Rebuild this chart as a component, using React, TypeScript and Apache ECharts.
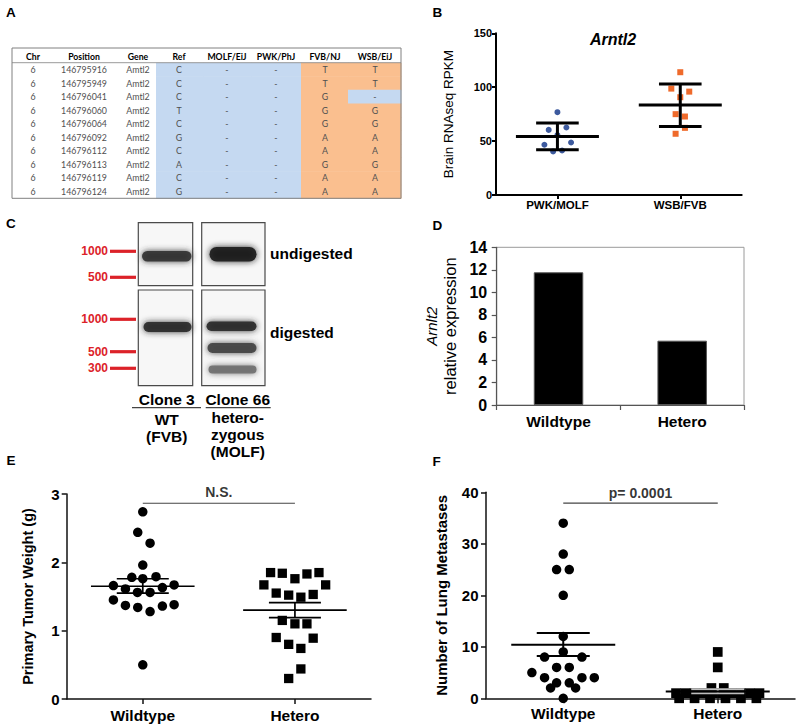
import React, { useEffect, useRef } from "react";
import * as echarts from "echarts";

const FONT = "'Liberation Sans', Arial, Helvetica, sans-serif";
const TABLE_FONT = "Lato, 'Open Sans', sans-serif";

// ---------- Panel A: SNP table ----------
const tableHeaders = ["Chr", "Position", "Gene", "Ref", "MOLF/EiJ", "PWK/PhJ", "FVB/NJ", "WSB/EiJ"];
const chrColumn = ["6", "6", "6", "6", "6", "6", "6", "6", "6", "6"];
const positionColumn = ["146795916", "146795949", "146796041", "146796060", "146796064", "146796092", "146796112", "146796113", "146796119", "146796124"];
const geneColumn = ["Amtl2", "Amtl2", "Amtl2", "Amtl2", "Amtl2", "Amtl2", "Amtl2", "Amtl2", "Amtl2", "Amtl2"];
const refColumn = ["C", "C", "C", "T", "C", "G", "C", "A", "C", "G"];
const molfColumn = ["-", "-", "-", "-", "-", "-", "-", "-", "-", "-"];
const pwkColumn = ["-", "-", "-", "-", "-", "-", "-", "-", "-", "-"];
const fvbColumn = ["T", "T", "G", "G", "G", "A", "A", "G", "A", "A"];
const wsbColumn = ["T", "T", "-", "G", "G", "A", "A", "G", "A", "A"];

// ---------- Panel B ----------
const bCategories = ["PWK/MOLF", "WSB/FVB"];
const bPwkMolf = [76.8, 60.4, 62.6, 55.5, 46.6, 48.7, 40.4, 41.3];
const bPwkMolfSpread = [0, -0.071, 0.073, 0, -0.106, 0.111, -0.035, 0.038];
const bWsbFvb = [113.9, 98.7, 95.9, 90.7, 75.0, 72.8, 62.3, 56.8];
const bWsbFvbSpread = [0, -0.073, 0.073, 0, -0.038, 0.038, 0.038, -0.038];
const bMeans = [54.3, 83.5];
const bSdUpper = [66.7, 103];
const bSdLower = [42, 63.5];
const bTicks = [0, 50, 100, 150];

// ---------- Panel C: gel ----------
const ladderTopLabels = ["1000", "500"];
const ladderBottomLabels = ["1000", "500", "300"];
const laneTitles = ["Clone 3", "Clone 66"];
const laneGenotypes = ["WT\n(FVB)", "hetero-\nzygous\n(MOLF)"];

// ---------- Panel D ----------
const dCategories = ["Wildtype", "Hetero"];
const dExpression = [11.78, 5.71];

// ---------- Panel E ----------
const eCategories = ["Wildtype", "Hetero"];
const eWildtypeWeight = [2.74, 2.44, 2.28, 1.96, 1.78, 1.76, 1.79, 1.66, 1.61, 1.56, 1.56, 1.63, 1.67, 1.45, 1.37, 1.34, 1.28, 1.36, 1.38, 0.5];
const eWildtypeSpread = [0, -0.033, 0.048, 0, -0.072, 0, 0.087, -0.193, -0.114, -0.035, 0.048, 0.129, 0.206, -0.193, -0.114, -0.033, 0.048, 0.129, 0.206, 0];
const eHeteroWeight = [1.85, 1.84, 1.76, 1.83, 1.85, 1.67, 1.67, 1.55, 1.52, 1.49, 1.53, 1.15, 1.1, 1.1, 0.9, 0.8, 0.74, 0.89, 0.44, 0.3];
const eHeteroSpread = [-0.16, -0.083, 0, 0.079, 0.158, -0.204, 0.202, -0.123, -0.041, 0.039, 0.12, -0.083, 0, 0.079, -0.123, -0.041, 0.039, 0.12, 0.039, -0.041];
const eMeans = [1.65, 1.3];
const eSemUpper = [1.76, 1.41];
const eSemLower = [1.55, 1.19];
const eSigLevel = 2.865;
const eSigText = "N.S.";

// ---------- Panel F ----------
const fCategories = ["Wildtype", "Hetero"];
const fWildtypeCount = [34, 28, 25, 25, 20, 12, 9, 8, 8, 6, 6, 5, 4, 4, 4, 3, 3, 2, 2, 0];
const fWildtypeSpread = [0, 0, -0.043, 0.039, 0, 0, 0, -0.121, 0.121, -0.043, 0.039, -0.203, -0.121, 0.121, 0.201, -0.043, 0.039, -0.082, 0.08, 0];
const fHeteroCount = [9, 6, 2, 2, 1, 1, 1, 1, 1, 1, 1, 1, 1, 1, 0, 0, 0, 0, 0, 0];
const fHeteroSpread = [0, 0, -0.041, 0.039, -0.27, -0.21, -0.15, -0.09, -0.03, 0.03, 0.09, 0.15, 0.21, 0.27, -0.25, -0.15, -0.05, 0.05, 0.15, 0.25];
const fMeans = [10.4, 1.3];
const fSemUpper = [12.7, 1.75];
const fSemLower = [8.2, 0.97];
const fSigLevel = 37.9;
const fSigText = "p= 0.0001";

// ---------- helpers ----------
const BLUE_CELL = "#c5d9f1";
const ORANGE_CELL = "#fabf8f";
const LADDER_RED = "#dc2229";

function boldText(size: number, color = "#000") {
  return { fontFamily: FONT, fontWeight: "bold" as const, fontSize: size, color };
}

function errorBarRenderer(meanHalf: number, barHalf: number, lw: number, barColors: string[]) {
  return (params: any, api: any) => {
    const x = api.value(0);
    const pm = api.coord([x, api.value(1)]);
    const ph = api.coord([x, api.value(2)]);
    const pl = api.coord([x, api.value(3)]);
    const ec = barColors[params.dataIndex] || "#000";
    return {
      type: "group",
      children: [
        { type: "line", shape: { x1: ph[0], y1: ph[1], x2: pl[0], y2: pl[1] }, style: { stroke: ec, lineWidth: lw } },
        { type: "line", shape: { x1: ph[0] - barHalf, y1: ph[1], x2: ph[0] + barHalf, y2: ph[1] }, style: { stroke: ec, lineWidth: lw } },
        { type: "line", shape: { x1: pl[0] - barHalf, y1: pl[1], x2: pl[0] + barHalf, y2: pl[1] }, style: { stroke: ec, lineWidth: lw } },
        { type: "line", shape: { x1: pm[0] - meanHalf, y1: pm[1], x2: pm[0] + meanHalf, y2: pm[1] }, style: { stroke: "#000", lineWidth: lw } },
      ],
    };
  };
}

function summaryData(means: number[], up: number[], lo: number[]) {
  return means.map((m, i) => [i, m, up[i], lo[i]]);
}

function spreadPoints(center: number, values: number[], spread: number[]) {
  return values.map((v, i) => [center + spread[i], v]);
}

function txt(x: number, y: number, text: string, size: number, opts: any = {}) {
  return {
    type: "text",
    x,
    y,
    silent: true,
    style: {
      text,
      fontFamily: opts.family || FONT,
      fontSize: size,
      fontWeight: opts.weight || "bold",
      fontStyle: opts.style || "normal",
      fill: opts.fill || "#000",
      textAlign: opts.align || "left",
      textVerticalAlign: "middle",
      lineHeight: opts.lineHeight,
    },
  };
}

function buildGraphics() {
  const g: any[] = [];
  // panel letters
  const letters: [string, number, number][] = [
    ["A", 6, 12], ["B", 432.5, 12], ["C", 6, 223.5], ["D", 432.5, 225], ["E", 6.5, 460.7], ["F", 432.5, 461.7],
  ];
  letters.forEach(([l, x, y]) => g.push(txt(x, y, l, 13.5)));

  // ---- Table ----
  const tLeft = 12, tRight = 401, tTop = 48, headerBottom = 62.7, tBottom = 198.3;
  const rowH = (tBottom - headerBottom) / chrColumn.length;
  const colCenters = [33, 84, 138, 179, 227, 276, 325, 375];
  const colEdges = [156, 203, 251, 301, 348, 401];
  const columns = [chrColumn, positionColumn, geneColumn, refColumn, molfColumn, pwkColumn, fvbColumn, wsbColumn];
  for (let c = 3; c < 8; c++) {
    for (let r = 0; r < chrColumn.length; r++) {
      const v = columns[c][r];
      const isOrange = c >= 6 && v !== "-";
      g.push({
        type: "rect",
        silent: true,
        shape: { x: colEdges[c - 3], y: headerBottom + r * rowH, width: colEdges[c - 2] - colEdges[c - 3] + 0.5, height: rowH + 0.5 },
        style: { fill: isOrange ? ORANGE_CELL : BLUE_CELL },
      });
    }
  }
  g.push({ type: "rect", silent: true, shape: { x: tLeft, y: tTop, width: tRight - tLeft, height: tBottom - tTop }, style: { fill: "none", stroke: "#808080", lineWidth: 1 } });
  g.push({ type: "line", silent: true, shape: { x1: tLeft, y1: headerBottom, x2: tRight, y2: headerBottom }, style: { stroke: "#808080", lineWidth: 0.8 } });
  tableHeaders.forEach((h, c) => g.push(txt(colCenters[c], 56, h, 8.7, { family: TABLE_FONT, align: "center" })));
  columns.forEach((col, c) =>
    col.forEach((v, r) =>
      g.push(txt(colCenters[c], headerBottom + (r + 0.5) * rowH, v, 8.8, { family: TABLE_FONT, weight: "normal", align: "center", fill: "#505050" }))
    )
  );

  // ---- Gel ----
  const boxes = [
    { x: 138.3, y: 222.7, w: 54.4, h: 63 },
    { x: 201.7, y: 222.7, w: 63.3, h: 63 },
    { x: 138.3, y: 290, w: 54.4, h: 95.7 },
    { x: 201.7, y: 290, w: 63.3, h: 95.7 },
  ];
  boxes.forEach((b) =>
    g.push({ type: "rect", silent: true, shape: { x: b.x, y: b.y, width: b.w, height: b.h }, style: { fill: "#f7f7f7", stroke: "#4a4a4a", lineWidth: 1.2 } })
  );
  const bands = [
    { x: 142, y: 251, w: 49.5, h: 10.5, c: "#333333" },
    { x: 209.5, y: 247, w: 47, h: 14.5, c: "#1a1a1a" },
    { x: 143.5, y: 322, w: 48, h: 10, c: "#2a2a2a" },
    { x: 206.5, y: 321.5, w: 50, h: 9.5, c: "#2a2a2a" },
    { x: 207.5, y: 343, w: 49, h: 10, c: "#444444" },
    { x: 208.5, y: 365.5, w: 48, h: 8, c: "#707070" },
  ];
  bands.forEach((b) =>
    g.push({ type: "rect", silent: true, shape: { x: b.x, y: b.y, width: b.w, height: b.h, r: b.h / 2 }, style: { fill: b.c, opacity: 0.92, shadowBlur: 6, shadowColor: b.c } })
  );
  const ladderTopY = [251.3, 277.3];
  const ladderBottomY = [319.3, 351.7, 368.3];
  const ladder = (labels: string[], ys: number[]) =>
    labels.forEach((l, i) => {
      g.push({ type: "line", silent: true, shape: { x1: 110, y1: ys[i], x2: 136, y2: ys[i] }, style: { stroke: LADDER_RED, lineWidth: 3.2 } });
      g.push(txt(108, ys[i], l, 12, { align: "right", fill: LADDER_RED }));
    });
  ladder(ladderTopLabels, ladderTopY);
  ladder(ladderBottomLabels, ladderBottomY);
  g.push(txt(270, 253.5, "undigested", 15.5));
  g.push(txt(270, 332, "digested", 15.5));
  const laneX = [166.7, 237.7];
  laneTitles.forEach((t, i) => g.push(txt(laneX[i], 399, t, 15.5, { align: "center" })));
  g.push({ type: "line", silent: true, shape: { x1: 132, y1: 407.7, x2: 201, y2: 407.7 }, style: { stroke: "#444", lineWidth: 1.2 } });
  g.push({ type: "line", silent: true, shape: { x1: 205.7, y1: 407.7, x2: 270.7, y2: 407.7 }, style: { stroke: "#444", lineWidth: 1.2 } });
  g.push(txt(laneX[0], 428.3, laneGenotypes[0], 15.5, { align: "center", lineHeight: 16.7 }));
  g.push(txt(laneX[1], 434.4, laneGenotypes[1], 15.5, { align: "center", lineHeight: 16.7 }));

  // ---- Panel B title ----
  g.push(txt(613, 39, "Arntl2", 16, { align: "center", style: "italic" }));
  return g;
}

function buildOption(): any {
  const noSplit = { show: false };
  const catAxis = (grid: number, data: string[], size: number, margin: number, lw: number, color: string, align: boolean, tickLen: number) => ({
    type: "category",
    gridIndex: grid,
    data,
    axisLine: { show: true, onZero: false, lineStyle: { color, width: lw } },
    axisTick: { show: true, alignWithLabel: align, length: tickLen, lineStyle: { color, width: lw } },
    axisLabel: { ...boldText(size), margin },
    splitLine: noSplit,
  });
  const valAxis = (grid: number, min: number, max: number, interval: number, size: number, margin: number, lw: number, color: string, tickLen: number, extra: any) => ({
    type: "value",
    gridIndex: grid,
    min,
    max,
    interval,
    axisLine: { show: true, onZero: false, lineStyle: { color, width: lw } },
    axisTick: { show: true, length: tickLen, lineStyle: { color, width: lw } },
    axisLabel: { ...boldText(size), margin },
    splitLine: noSplit,
    nameLocation: "middle",
    nameRotate: 90,
    ...extra,
  });
  const hiddenX = (grid: number) => ({ type: "value", gridIndex: grid, min: -0.5, max: 1.5, show: false, splitLine: noSplit, axisLine: { show: false, onZero: false } });
  const solid = (color: string) => ({ color, opacity: 1 });

  return {
    animation: false,
    backgroundColor: "#fff",
    graphic: { elements: buildGraphics() },
    grid: [
      { left: 496, top: 33.3, width: 245.7, height: 161.7, outerBoundsMode: "none", containLabel: false },
      { left: 496.7, top: 247.3, width: 247.3, height: 157.7, show: true, borderColor: "#9a9a9a", borderWidth: 1, outerBoundsMode: "none", containLabel: false },
      { left: 66.7, top: 494, width: 304.3, height: 205, outerBoundsMode: "none", containLabel: false },
      { left: 486, top: 492.3, width: 309, height: 206, outerBoundsMode: "none", containLabel: false },
    ],
    xAxis: [
      catAxis(0, bCategories, 11.5, 4, 2, "#000", true, 4),
      hiddenX(0),
      catAxis(1, dCategories, 15.5, 8, 1.2, "#555", false, 5),
      catAxis(2, eCategories, 15.5, 8, 1.5, "#111", true, 5),
      hiddenX(2),
      catAxis(3, fCategories, 15.5, 7.5, 1.5, "#111", true, 5),
      hiddenX(3),
    ],
    yAxis: [
      valAxis(0, bTicks[0], bTicks[bTicks.length - 1], 50, 11, 4, 2, "#000", 4, {
        name: "Brain RNAseq RPKM",
        nameGap: 41,
        nameTextStyle: { fontFamily: FONT, fontSize: 13.5, color: "#000" },
      }),
      valAxis(1, 0, 14, 2, 16, 9.5, 1.2, "#555", 5, {
        name: "{it|Arnlt2}\n{n|relative expression}",
        nameGap: 37,
        nameTextStyle: {
          lineHeight: 18.5,
          rich: {
            it: { fontFamily: FONT, fontSize: 15, fontStyle: "italic", color: "#000", lineHeight: 18.5 },
            n: { fontFamily: FONT, fontSize: 16.5, color: "#000", lineHeight: 18.5 },
          },
        },
      }),
      valAxis(2, 0, 3, 1, 15, 7, 1.5, "#111", 5, {
        name: "Primary Tumor Weight (g)",
        nameGap: 31,
        nameTextStyle: boldText(14.5),
      }),
      valAxis(3, 0, 40, 10, 15, 7.5, 1.5, "#111", 5, {
        name: "Number of Lung Metastases",
        nameGap: 37,
        nameTextStyle: boldText(15),
      }),
    ],
    series: [
      // B
      { type: "scatter", xAxisIndex: 1, yAxisIndex: 0, symbol: "circle", symbolSize: 6, itemStyle: solid("#3d5a9e"), data: spreadPoints(0, bPwkMolf, bPwkMolfSpread) },
      { type: "scatter", xAxisIndex: 1, yAxisIndex: 0, symbol: "rect", symbolSize: 6, itemStyle: solid("#ef6a2b"), data: spreadPoints(1, bWsbFvb, bWsbFvbSpread) },
      { type: "custom", xAxisIndex: 1, yAxisIndex: 0, renderItem: errorBarRenderer(41.5, 21.3, 3, ["#000", "#000"]), data: summaryData(bMeans, bSdUpper, bSdLower), z: 5 },
      // D
      { type: "bar", xAxisIndex: 2, yAxisIndex: 1, barWidth: 49.5, itemStyle: { color: "#000", borderColor: "#555", borderWidth: 1 }, data: dExpression },
      // E
      { type: "scatter", xAxisIndex: 4, yAxisIndex: 2, symbol: "circle", symbolSize: 9.5, itemStyle: solid("#000"), data: spreadPoints(0, eWildtypeWeight, eWildtypeSpread) },
      { type: "scatter", xAxisIndex: 4, yAxisIndex: 2, symbol: "rect", symbolSize: 9.3, itemStyle: solid("#000"), data: spreadPoints(1, eHeteroWeight, eHeteroSpread) },
      { type: "custom", xAxisIndex: 4, yAxisIndex: 2, renderItem: errorBarRenderer(51.8, 26, 1.7, ["#000", "#000"]), data: summaryData(eMeans, eSemUpper, eSemLower), z: 5 },
      { type: "line", xAxisIndex: 4, yAxisIndex: 2, symbol: "none", silent: true, lineStyle: { color: "#444", width: 1.2 }, data: [[0, eSigLevel], [1, eSigLevel]] },
      { type: "scatter", xAxisIndex: 4, yAxisIndex: 2, symbolSize: 1, itemStyle: { color: "rgba(0,0,0,0)" }, silent: true, label: { show: true, position: "top", distance: 4, formatter: eSigText, ...boldText(14) }, data: [[0.5, eSigLevel]] },
      // F
      { type: "scatter", xAxisIndex: 6, yAxisIndex: 3, symbol: "circle", symbolSize: 9.5, itemStyle: solid("#000"), data: spreadPoints(0, fWildtypeCount, fWildtypeSpread) },
      { type: "scatter", xAxisIndex: 6, yAxisIndex: 3, symbol: "rect", symbolSize: 9.7, itemStyle: solid("#000"), data: spreadPoints(1, fHeteroCount, fHeteroSpread) },
      { type: "custom", xAxisIndex: 6, yAxisIndex: 3, renderItem: errorBarRenderer(52, 26.5, 2, ["#000", "#bdbdbd"]), data: summaryData(fMeans, fSemUpper, fSemLower), z: 5 },
      { type: "line", xAxisIndex: 6, yAxisIndex: 3, symbol: "none", silent: true, lineStyle: { color: "#444", width: 1.2 }, data: [[0, fSigLevel], [1, fSigLevel]] },
      { type: "scatter", xAxisIndex: 6, yAxisIndex: 3, symbolSize: 1, itemStyle: { color: "rgba(0,0,0,0)" }, silent: true, label: { show: true, position: "top", distance: 2.5, formatter: fSigText, ...boldText(14) }, data: [[0.5, fSigLevel]] },
    ],
  };
}

export default function App() {
  const ref = useRef<HTMLDivElement>(null);
  useEffect(() => {
    if (!ref.current) return;
    const chart = echarts.init(ref.current, undefined, { renderer: "svg" });
    chart.setOption(buildOption());
    return () => chart.dispose();
  }, []);
  return <div ref={ref} style={{ position: "fixed", left: 0, top: 0, width: 800, height: 727, background: "#fff" }} />;
}
